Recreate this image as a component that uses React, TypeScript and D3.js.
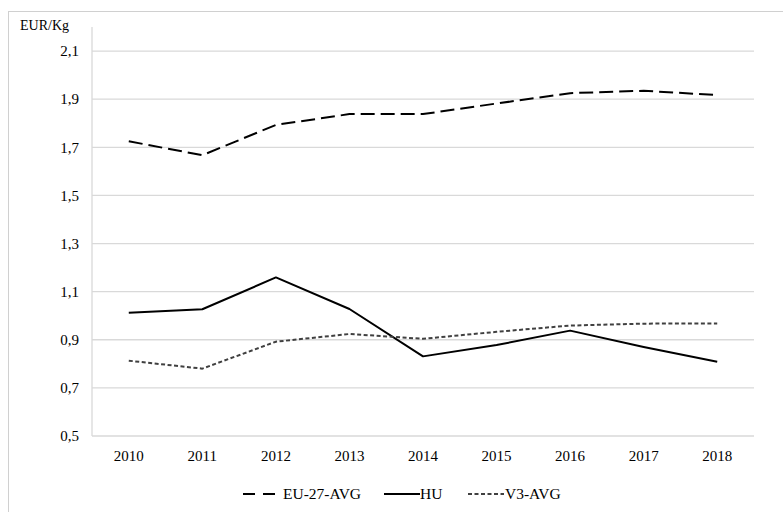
import React from "react";
import * as d3 from "d3";

const years = ["2010", "2011", "2012", "2013", "2014", "2015", "2016", "2017", "2018"];
const eu27 = [1.725, 1.667, 1.793, 1.838, 1.838, 1.882, 1.925, 1.935, 1.917];
const hu = [1.012, 1.027, 1.159, 1.028, 0.831, 0.878, 0.938, 0.87, 0.809];
const v3 = [0.813, 0.78, 0.892, 0.924, 0.904, 0.933, 0.959, 0.967, 0.968];
const yTicks = [0.5, 0.7, 0.9, 1.1, 1.3, 1.5, 1.7, 1.9, 2.1];

const W = 783;
const H = 512;
const FONT = "Liberation Serif, Times New Roman, DejaVu Serif, serif";

export default function App() {
  const x = d3.scaleBand().domain(years).range([92, 754]);
  const y = d3.scaleLinear().domain([0.5, 2.2]).range([436, 27]);
  const cx = (d: string) => (x(d) as number) + x.bandwidth() / 2;
  const line = d3
    .line<number>()
    .x((_, i) => cx(years[i]))
    .y((v) => y(v));

  const series = [
    { name: "EU-27-AVG", values: eu27, dash: "14,6", color: "#000", width: 2 },
    { name: "HU", values: hu, dash: null, color: "#000", width: 2 },
    { name: "V3-AVG", values: v3, dash: "4,2.5", color: "#404040", width: 2 },
  ];

  const legend = [
    { x1: 243, x2: 275, tx: 283 },
    { x1: 384, x2: 420, tx: 420 },
    { x1: 468, x2: 504, tx: 505 },
  ];

  const ts = { fontFamily: FONT };

  return (
    <svg
      width={W}
      height={H}
      style={{ position: "absolute", left: 0, top: 0, background: "#fff" }}
    >
      <rect x={8.5} y={11.5} width={820} height={520} fill="#fff" stroke="#d0d0d0" />
      {yTicks.slice(1).map((t) => (
        <line key={t} x1={92} x2={754} y1={y(t)} y2={y(t)} stroke="#d9d9d9" strokeWidth={1.3} />
      ))}
      <line x1={92} x2={92} y1={27} y2={y(0.5)} stroke="#d9d9d9" strokeWidth={1.3} />
      <line x1={92} x2={754} y1={y(0.5)} y2={y(0.5)} stroke="#d9d9d9" strokeWidth={1.3} />
      {yTicks.map((t) => (
        <text key={t} x={79} y={y(t)} dy="0.35em" textAnchor="end" fontSize={15} fill="#000" style={ts}>
          {d3.format(".1f")(t).replace(".", ",")}
        </text>
      ))}
      <text x={20} y={30} fontSize={14} fill="#000" style={ts}>EUR/Kg</text>
      {years.map((yr) => (
        <text key={yr} x={cx(yr)} y={456} dy="0.35em" textAnchor="middle" fontSize={15} fill="#000" style={ts}>
          {yr}
        </text>
      ))}
      {series.map((s) => (
        <path
          key={s.name}
          d={line(s.values) as string}
          fill="none"
          stroke={s.color}
          strokeWidth={s.width}
          strokeDasharray={s.dash ?? undefined}
          strokeLinejoin="round"
        />
      ))}
      {series.map((s, i) => (
        <g key={s.name}>
          <line
            x1={legend[i].x1}
            x2={legend[i].x2}
            y1={494}
            y2={494}
            stroke={s.color}
            strokeWidth={s.width}
            strokeDasharray={s.name === "EU-27-AVG" ? "12,8" : s.dash ?? undefined}
          />
          <text x={legend[i].tx} y={494} dy="0.35em" fontSize={15.5} fill="#000" style={ts}>
            {s.name}
          </text>
        </g>
      ))}
    </svg>
  );
}
